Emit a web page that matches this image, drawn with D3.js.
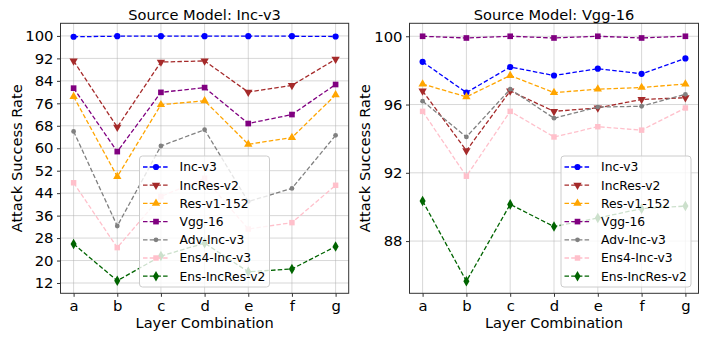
<!DOCTYPE html>
<html>
<head>
<meta charset="utf-8">
<script src="https://cdn.jsdelivr.net/npm/d3@7"></script>
<style>
  body { margin: 0; background: #fff; }
  svg { font-family: "DejaVu Sans", sans-serif; }
  .grid line { stroke: #b0b0b0; stroke-opacity: 0.55; stroke-width: 0.9; }
</style>
</head>
<body>
<svg id="chart" width="706" height="341"></svg>
<script>
const layers = ["a", "b", "c", "d", "e", "f", "g"];
const models = ["Inc-v3", "IncRes-v2", "Res-v1-152", "Vgg-16", "Adv-Inc-v3", "Ens4-Inc-v3", "Ens-IncRes-v2"];
const colors = ["#0000ff", "#a52a2a", "#ffa500", "#800080", "#808080", "#ffc0cb", "#006400"];
const leftTicks = [12, 20, 28, 36, 44, 52, 60, 68, 76, 84, 92, 100];
const rightTicks = [88, 92, 96, 100];

// Source model: Inc-v3
const incV3Rates = [
    [99.7, 99.9, 99.9, 99.9, 99.9, 99.9, 99.8],
    [91.1, 67.5, 90.7, 91.1, 80.0, 82.4, 91.7],
    [78.4, 49.9, 75.5, 76.9, 61.4, 63.8, 79.0],
    [81.4, 58.8, 79.9, 81.6, 68.8, 72.0, 82.7],
    [66.0, 32.3, 60.8, 66.6, 41.0, 45.7, 64.6],
    [47.7, 24.6, 42.8, 49.3, 31.2, 33.5, 46.8],
    [25.9, 12.8, 21.6, 26.2, 16.0, 17.0, 25.0]
];

// Source model: Vgg-16
const vgg16Rates = [
    [98.5, 96.7, 98.2, 97.7, 98.1, 97.8, 98.7],
    [96.8, 93.3, 96.8, 95.6, 95.8, 96.3, 96.4],
    [97.2, 96.45, 97.7, 96.7, 96.9, 97.0, 97.2],
    [100.0, 99.9, 100.0, 99.9, 100.0, 99.9, 100.0],
    [96.2, 94.1, 96.9, 95.2, 95.85, 95.9, 96.6],
    [95.6, 91.8, 95.6, 94.1, 94.7, 94.5, 95.8],
    [90.35, 85.65, 90.15, 88.85, 89.35, 89.9, 90.05]
];

const symbols = [
    {type: d3.symbolCircle, size: 30, rot: 0},
    {type: d3.symbolTriangle, size: 30, rot: 180},
    {type: d3.symbolTriangle, size: 30, rot: 0},
    {type: d3.symbolSquare, size: 32, rot: 0},
    {type: d3.symbolCircle, size: 18, rot: 0},
    {type: d3.symbolSquare, size: 30, rot: 0},
    {type: d3.symbolDiamond, size: 32, rot: 0}
];

const svg = d3.select("#chart");

function drawPanel(opts) {
    const x = d3.scalePoint().domain(layers).range([opts.left + 13.1, opts.right - 13.1]);
    const y = d3.scaleLinear().domain(opts.domain).range([opts.bottom, opts.top]);
    const g = svg.append("g");

    // grid
    const grid = g.append("g").attr("class", "grid");
    grid.selectAll("line.v").data(layers).enter().append("line")
        .attr("x1", d => x(d)).attr("x2", d => x(d))
        .attr("y1", opts.top).attr("y2", opts.bottom);
    grid.selectAll("line.h").data(opts.ticks).enter().append("line")
        .attr("x1", opts.left).attr("x2", opts.right)
        .attr("y1", d => y(d)).attr("y2", d => y(d));

    // lines and markers
    const line = d3.line().x((d, i) => x(layers[i])).y(d => y(d));
    opts.data.forEach(function (vals, k) {
        g.append("path")
            .datum(vals)
            .attr("d", line)
            .attr("fill", "none")
            .attr("stroke", colors[k])
            .attr("stroke-width", 1.3)
            .attr("stroke-dasharray", "4.5,2.2");
        const sym = d3.symbol().type(symbols[k].type).size(symbols[k].size);
        g.selectAll(null).data(vals).enter().append("path")
            .attr("d", sym)
            .attr("transform", (d, i) => `translate(${x(layers[i])},${y(d)}) rotate(${symbols[k].rot})`)
            .attr("fill", colors[k]);
    });

    // frame
    g.append("rect")
        .attr("x", opts.left).attr("y", opts.top)
        .attr("width", opts.right - opts.left).attr("height", opts.bottom - opts.top)
        .attr("fill", "none").attr("stroke", "#333").attr("stroke-width", 1);

    // axes
    const xAxis = g.append("g")
        .attr("transform", `translate(0,${opts.bottom})`)
        .call(d3.axisBottom(x).tickSize(3.5).tickPadding(3.5));
    const yAxis = g.append("g")
        .attr("transform", `translate(${opts.left},0)`)
        .call(d3.axisLeft(y).tickValues(opts.ticks).tickSize(3.5).tickPadding(3.5));
    [xAxis, yAxis].forEach(function (a) {
        a.attr("font-family", "DejaVu Sans").attr("font-size", 14.8);
        a.select(".domain").remove();
        a.selectAll(".tick line").attr("stroke", "#333");
        a.selectAll(".tick text").attr("fill", "#000");
    });

    // texts
    g.append("text")
        .attr("x", (opts.left + opts.right) / 2).attr("y", 20)
        .attr("text-anchor", "middle").attr("font-size", 14.6)
        .text(opts.title);
    g.append("text")
        .attr("x", (opts.left + opts.right) / 2).attr("y", 328)
        .attr("text-anchor", "middle").attr("font-size", 14.6)
        .text("Layer Combination");
    g.append("text")
        .attr("transform", `translate(${opts.labelX},${(opts.top + opts.bottom) / 2}) rotate(-90)`)
        .attr("text-anchor", "middle").attr("font-size", 14.6)
        .text("Attack Success Rate");

    // legend
    const lg = g.append("g").attr("transform", `translate(${opts.legendX},156)`);
    lg.append("rect")
        .attr("width", 130).attr("height", 131).attr("rx", 3)
        .attr("fill", "#fff").attr("fill-opacity", 0.8)
        .attr("stroke", "#cccccc").attr("stroke-width", 1);
    models.forEach(function (name, k) {
        const yy = 11 + k * 18.2;
        lg.append("line")
            .attr("x1", 3.5).attr("x2", 30).attr("y1", yy).attr("y2", yy)
            .attr("stroke", colors[k]).attr("stroke-width", 1.3)
            .attr("stroke-dasharray", "4.5,2.2");
        lg.append("path")
            .attr("d", d3.symbol().type(symbols[k].type).size(symbols[k].size))
            .attr("transform", `translate(16.5,${yy}) rotate(${symbols[k].rot})`)
            .attr("fill", colors[k]);
        lg.append("text")
            .attr("x", 40).attr("y", yy).attr("dy", "0.35em")
            .attr("font-size", 12.3)
            .text(name);
    });
}

drawPanel({
    title: "Source Model: Inc-v3",
    data: incV3Rates,
    ticks: leftTicks,
    domain: [8.33, 104.5],
    left: 60.5, right: 348.7, top: 23.3, bottom: 293.3,
    labelX: 22, legendX: 139.5
});

drawPanel({
    title: "Source Model: Vgg-16",
    data: vgg16Rates,
    ticks: rightTicks,
    domain: [84.94, 100.76],
    left: 409.5, right: 698.5, top: 23.3, bottom: 293.3,
    labelX: 370, legendX: 561
});
</script>
</body>
</html>
